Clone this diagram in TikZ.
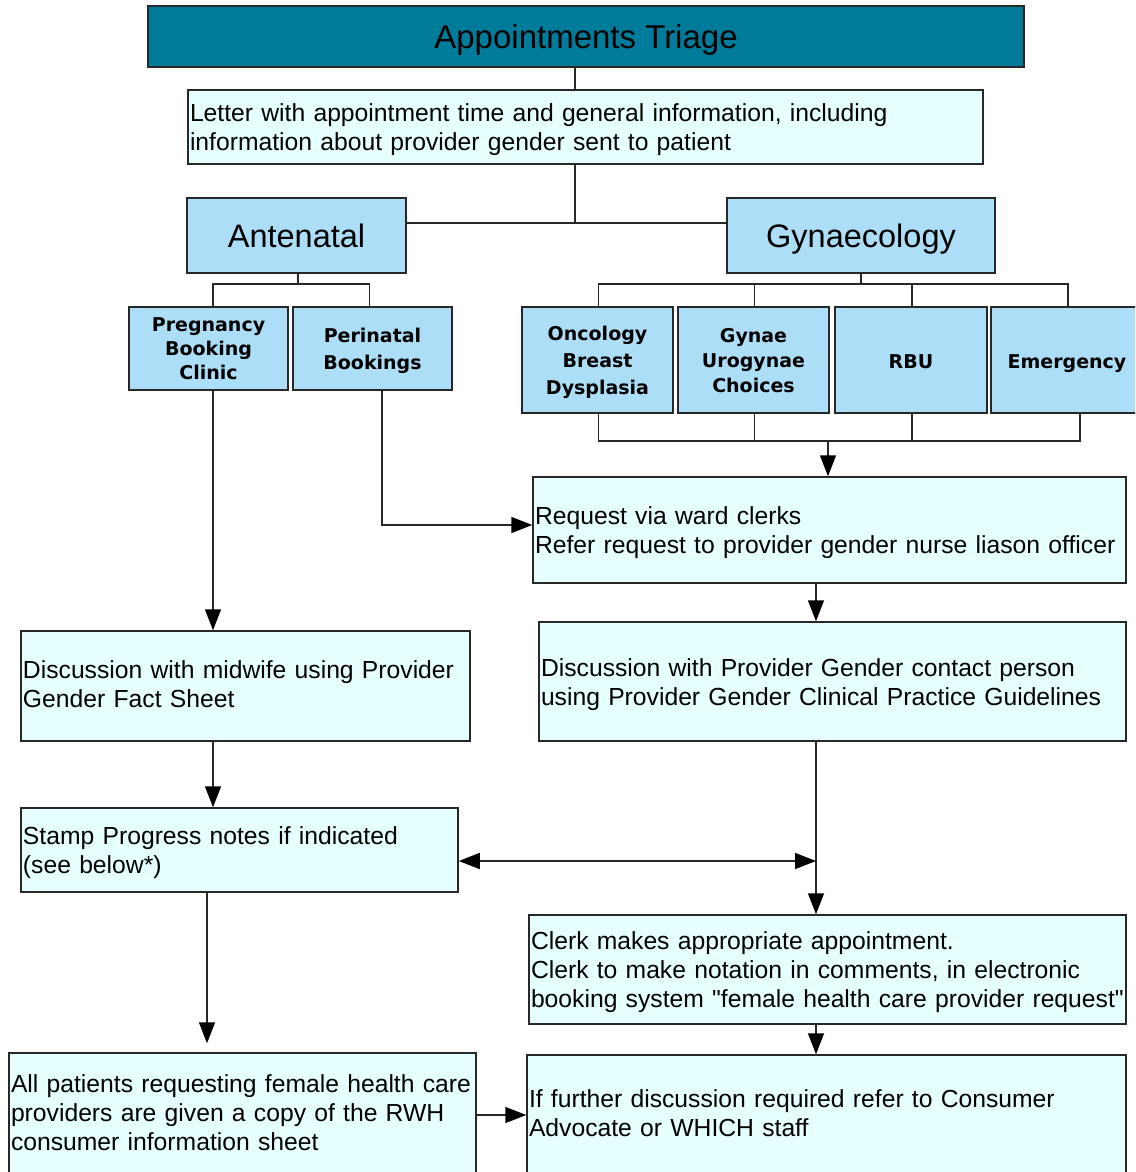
\documentclass[tikz,border=0pt]{standalone}
\usepackage{fontspec}
\setmainfont{Liberation Sans}
\newfontfamily\labelfont{DejaVu Sans}
\usetikzlibrary{arrows.meta}
\definecolor{triageteal}{RGB}{0,123,153}
\definecolor{streamblue}{RGB}{173,222,247}
\definecolor{notecyan}{RGB}{230,255,255}
\definecolor{edgegray}{RGB}{40,40,40}

\begin{document}
\begin{tikzpicture}[x=1pt, y=-1pt, >={Triangle[length=21pt, width=16pt, color=black]}]
\tikzstyle{header} = [rectangle, draw=edgegray, fill=triageteal, line width=1.5pt, text depth=0pt, font=\fontsize{33}{38}\selectfont]
\tikzstyle{stream} = [rectangle, draw=edgegray, fill=streamblue, line width=1.5pt, minimum height=75pt, text depth=0pt, font=\fontsize{32.5}{38}\selectfont]
\tikzstyle{clinic} = [rectangle, draw=edgegray, fill=streamblue, line width=1.5pt, align=center, inner sep=1pt, text depth=0pt, font=\labelfont\bfseries\fontsize{19}{25}\selectfont]
\tikzstyle{note} = [rectangle, draw=edgegray, fill=notecyan, line width=1.5pt, inner xsep=2pt, align=left, execute at begin node={\rule{0pt}{24pt}}, font=\fontsize{24.7}{29}\selectfont]
\tikzstyle{highnote} = [note, execute at begin node={}, execute at end node={\rule[-11pt]{0pt}{1pt}}]
\tikzstyle{link} = [draw=edgegray, line width=1.5pt]
\useasboundingbox (0,0) rectangle (1135,1172);
\clip (0,0) rectangle (1135,1172);

% top of the triage
\node (triage) [header, minimum width=876pt, minimum height=61pt] at (586,36.5) {Appointments Triage};
\node (letter) [note, text width=791pt, minimum height=74pt] at (585.5,127) {Letter with appointment time and general information, including\\information about provider gender sent to patient};
\node (antenatal) [stream, minimum width=219pt] at (296.5,235.5) {Antenatal};
\node (gynae) [stream, minimum width=268pt] at (861,235.5) {Gynaecology};

% clinics
\node (pregnancy) [clinic, minimum width=159pt, minimum height=83pt, font=\labelfont\bfseries\fontsize{19}{24}\selectfont] at (208.5,348.5) {Pregnancy\\Booking\\Clinic};
\node (perinatal) [clinic, minimum width=159pt, minimum height=83pt, font=\labelfont\bfseries\fontsize{19}{27}\selectfont] at (372.5,348.5) {Perinatal\\Bookings};
\node (oncology) [clinic, minimum width=151pt, minimum height=106pt, font=\labelfont\bfseries\fontsize{19}{27}\selectfont] at (597.5,360) {Oncology\\Breast\\Dysplasia};
\node (urogynae) [clinic, minimum width=151pt, minimum height=106pt] at (753.5,360) {Gynae\\Urogynae\\Choices};
\node (rbu) [clinic, minimum width=152pt, minimum height=106pt, text height=16pt] at (911,360) {RBU};
\node (emergency) [clinic, minimum width=152pt, minimum height=106pt, text height=16pt] at (1067,360) {Emergency};

% steps
\node (request) [note, text width=589pt, minimum height=106pt] at (829.5,530) {Request via ward clerks\\Refer request to provider gender nurse liason officer};
\node (midwife) [highnote, text width=445pt, minimum height=110pt] at (245.5,686) {Discussion with midwife using Provider\\Gender Fact Sheet};
\node (contact) [note, text width=583pt, minimum height=119pt] at (832.5,681.5) {Discussion with Provider Gender contact person\\using Provider Gender Clinical Practice Guidelines};
\node (stamp) [note, text width=433pt, minimum height=84pt] at (239.5,850) {Stamp Progress notes if indicated\\(see below*)};
\node (clerk) [note, text width=593pt, minimum height=109pt] at (827.5,969.5) {Clerk makes appropriate appointment.\\Clerk to make notation in comments, in electronic\\booking system \textquotedbl female health care provider request\textquotedbl};
\node (further) [highnote, text width=595pt, minimum height=120pt] at (826.5,1115) {If further discussion required refer to Consumer\\Advocate or WHICH staff};
\node (patients) [highnote, text width=463pt, minimum height=124pt] at (242.5,1115) {All patients requesting female health care\\providers are given a copy of the RWH\\consumer information sheet};

\coordinate (hub) at (575,223);
\coordinate (antsplit) at (298,284);
\coordinate (gynsplit) at (861,284);
\coordinate (gynmerge) at (828,441);
\coordinate (pregline) at (213,0);
\coordinate (periline) at (382,0);
\coordinate (patline) at (207,0);
\coordinate (rightline) at (816,861);

\draw [link] (triage.south -| hub) -- (letter.north -| hub);
\draw [link] (letter.south -| hub) -- (hub);
\draw [link] (antenatal.east |- hub) -- (gynae.west |- hub);

\draw [link] (antenatal.south -| antsplit) -- (antsplit);
\draw [link] (pregnancy.north -| pregline) |- (antsplit);
\draw [link] ([xshift=-3pt]perinatal.north) |- (antsplit);

\draw [link] (gynae.south) -- (gynsplit);
\foreach \clin in {oncology, urogynae, rbu, emergency}
  \draw [link] ([xshift=1pt]\clin.north) |- (gynsplit);
\foreach \clin in {oncology, urogynae, rbu}
  \draw [link] ([xshift=1pt]\clin.south) |- (gynmerge);
\draw [link] ([xshift=13pt]emergency.south) |- (gynmerge);
\draw [link, ->] (gynmerge) -- (request.north -| gynmerge);

\draw [link, ->] (perinatal.south -| periline) |- ([yshift=5pt]request.west);
\draw [link, ->] (pregnancy.south -| pregline) -- (midwife.north -| pregline);
\draw [link, ->] (midwife.south -| pregline) -- (stamp.north -| pregline);
\draw [link, ->, shorten >=9pt] (stamp.south -| patline) -- (patients.north -| patline);
\draw [link, ->] (patients.east) -- (further.west);

\draw [link, ->] (request.south -| rightline) -- (contact.north -| rightline);
\draw [link, ->] (contact.south -| rightline) -- (clerk.north -| rightline);
\draw [link, <->] (stamp.east |- rightline) -- (rightline);
\draw [link, ->] (clerk.south -| rightline) -- (further.north -| rightline);

\end{tikzpicture}
\end{document}
